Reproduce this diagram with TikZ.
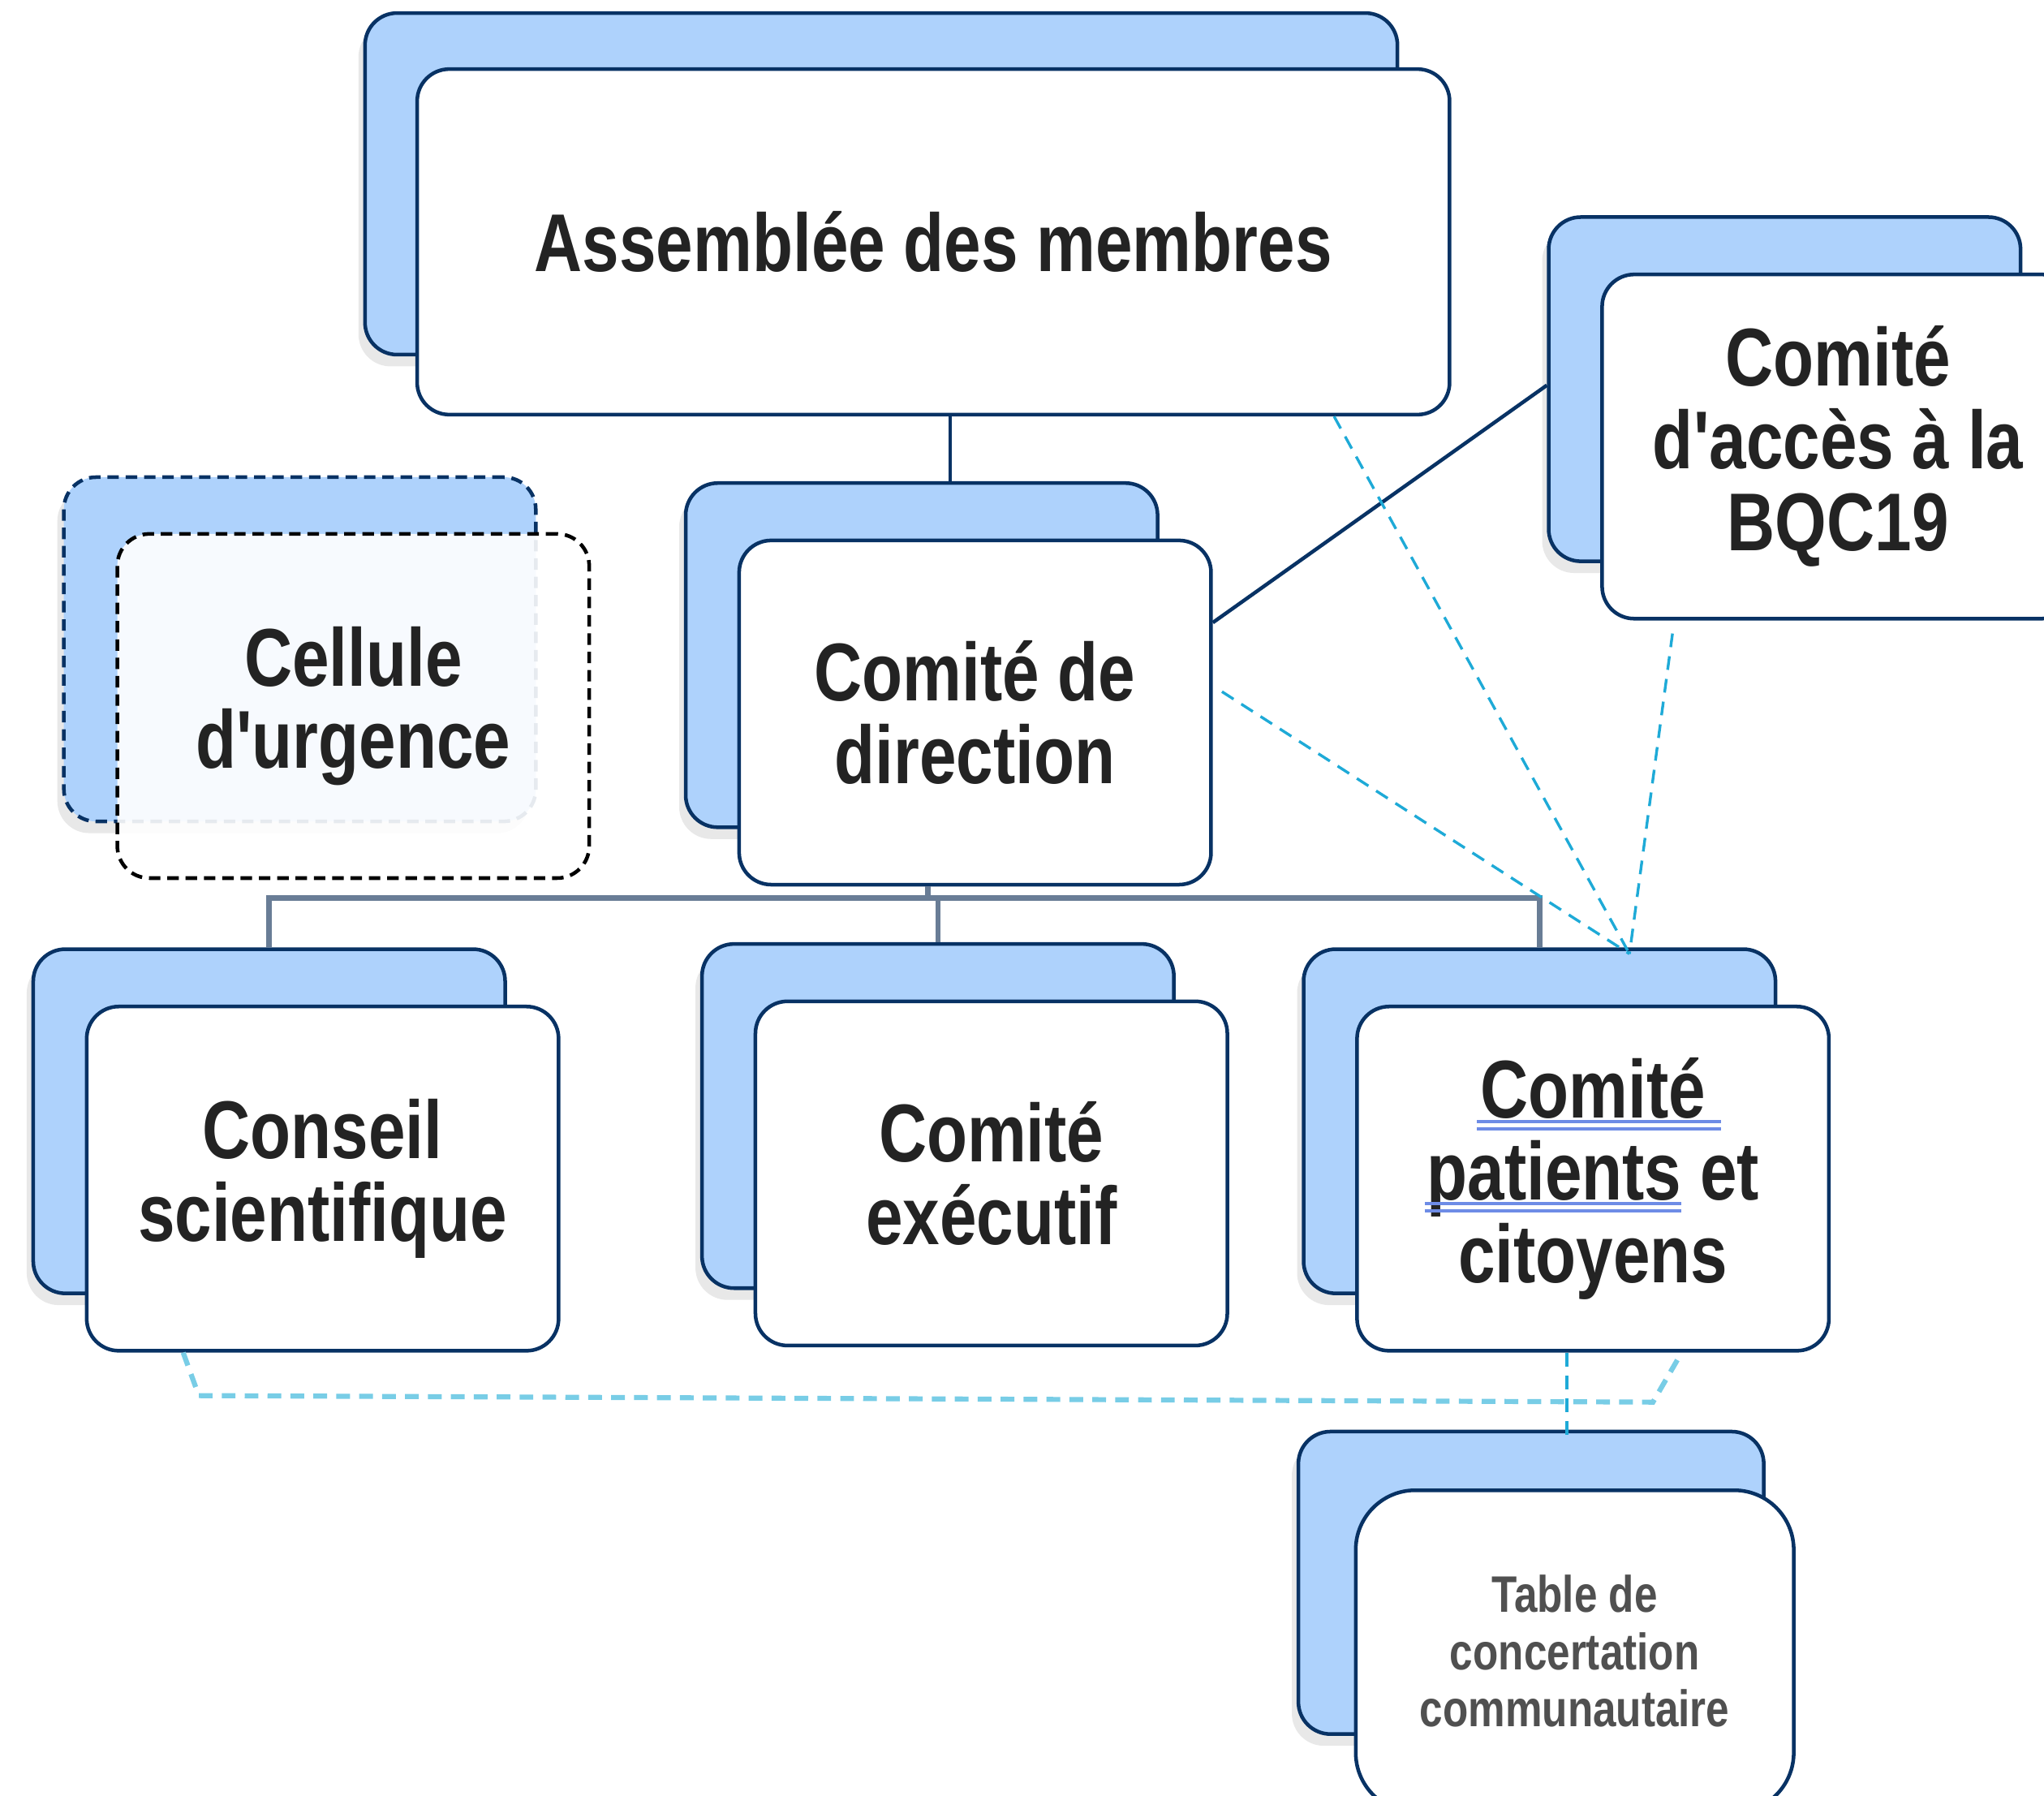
\documentclass[tikz,border=0pt]{standalone}
\usepackage{fontspec}
\newfontfamily\boxfont{Liberation Sans}[FakeStretch=0.81]
\usetikzlibrary{shapes,shadows}
\definecolor{navy}{RGB}{8,50,100}
\definecolor{paleblue}{RGB}{174,210,252}
\definecolor{slate}{RGB}{105,125,150}
\definecolor{aqua}{RGB}{30,170,215}
\definecolor{lightaqua}{RGB}{120,205,230}
\definecolor{ink}{RGB}{35,35,35}
\definecolor{greyink}{RGB}{80,80,80}
\definecolor{spellblue}{RGB}{110,140,230}
\tikzstyle{back}=[rectangle,rounded corners=7pt,draw=navy,line width=0.8pt,fill=paleblue,minimum width=3.62cm,minimum height=2.64cm,inner sep=0pt,drop shadow={shadow xshift=-0.5mm,shadow yshift=-0.9mm,opacity=0.18}]
\tikzstyle{front}=[rectangle,rounded corners=7pt,draw=navy,line width=0.8pt,fill=white,minimum width=3.62cm,minimum height=2.64cm,inner sep=0pt,align=center,text=ink,font=\boxfont\bfseries\fontsize{17.9}{18}\selectfont]
\tikzstyle{tie}=[draw=navy,line width=0.8pt]
\tikzstyle{trunk}=[draw=slate,line width=1.2pt]
\tikzstyle{link}=[draw=aqua,line width=0.6pt,dash pattern=on 3pt off 2pt]
\tikzstyle{wide}=[draw=lightaqua,line width=1.1pt]
\tikzstyle{spell}=[draw=spellblue,line width=0.7pt]

\begin{document}
\begin{tikzpicture}[scale=1]
    \useasboundingbox (0,0) rectangle (15.68,-13.77);
    \clip (0,0) rectangle (15.68,-13.77);
    % The members' assembly, wider than the other cards
    \node[back,minimum width=7.92cm,minimum height=2.62cm] (amb-b) at (6.76,-1.41) {};
    \node[front,minimum width=7.92cm,minimum height=2.65cm] (amb) at (7.16,-1.855) {Assemblée des membres};

    % Then the committee cards, each with its blue card behind
    \foreach \pos/\name/\txt in {{(14.10,-3.425)/acces/Comité\\d'accès à la\\BQC19}, {(7.48,-5.465)/direction/Comité de\\direction}, {(2.475,-9.04)/conseil/Conseil\\scientifique}, {(7.605,-9.00)/executif/Comité\\exécutif}, {(12.22,-9.04)/patients/Comité\\patients et\\citoyens}}
    {
        \node[back,xshift=-4.1mm,yshift=4.4mm] (\name-b) at \pos {};
        \node[front] (\name) at \pos {\txt};
    }

    % Emergency cell, dashed and see-through
    \node[back,dash pattern=on 2.5pt off 1.5pt] (cellule-b) at (2.30,-4.98) {};
    \node[front,draw=black,dash pattern=on 2.5pt off 1.5pt,fill opacity=0.9,text opacity=1] (cellule) at (2.71,-5.415) {Cellule\\d'urgence};

    % Community table, below the patients committee
    \node[back,minimum width=3.57cm,minimum height=2.32cm] (table-b) at (11.745,-12.14) {};
    \node[front,rounded corners=13pt,minimum width=3.36cm,minimum height=2.47cm,text=greyink,font=\boxfont\bfseries\fontsize{11.2}{12.5}\selectfont] (table) at (12.08,-12.665) {Table de\\concertation\\communautaire};

    % Solid links
    \draw[tie] ([xshift=1.3mm]amb.south) -- ([xshift=1.3mm]amb.south |- direction-b.north);
    \draw[tie] ([yshift=6.9mm]direction.east) -- ([yshift=0.3mm]acces-b.west);
    \coordinate[xshift=-3.6mm,yshift=-0.9mm] (fork) at (direction.south);
    \draw[trunk] (conseil-b.north) -- (conseil-b.north |- fork) -- (patients-b.north |- fork) -- (patients-b.north);
    \draw[trunk] (direction.south -| fork) -- (fork);
    \draw[trunk] (executif-b.north |- fork) -- (executif-b.north);

    % Dashed links
    \coordinate[xshift=6.9mm,yshift=-0.5mm] (hub) at (patients-b.north);
    \draw[link] ([xshift=-9mm]amb.south east) -- (hub);
    \draw[link] ([xshift=0.7mm,yshift=1.6mm]direction.east) -- (hub);
    \draw[link] ([xshift=-12.7mm,yshift=-1mm]acces.south) -- (hub);
    \draw[link,wide] ([xshift=-10.7mm]conseil.south) -- ([xshift=-9.5mm,yshift=-3.3mm]conseil.south) -- ([xshift=4.6mm,yshift=-3.8mm]patients.south) -- ([xshift=6.8mm]patients.south);
    \draw[link] ([xshift=-2mm]patients.south) -- ([xshift=-2mm,yshift=-1mm]patients.south |- table-b.north);

    % Double underlines under two words
    \foreach \dy in {0.44,0.38}
        \draw[spell] ([xshift=-8.9mm,yshift=\dy cm]patients.center) -- ++(1.87,0);
    \foreach \dy in {-0.19,-0.25}
        \draw[spell] ([xshift=-12.9mm,yshift=\dy cm]patients.center) -- ++(1.97,0);
\end{tikzpicture}
\end{document}
